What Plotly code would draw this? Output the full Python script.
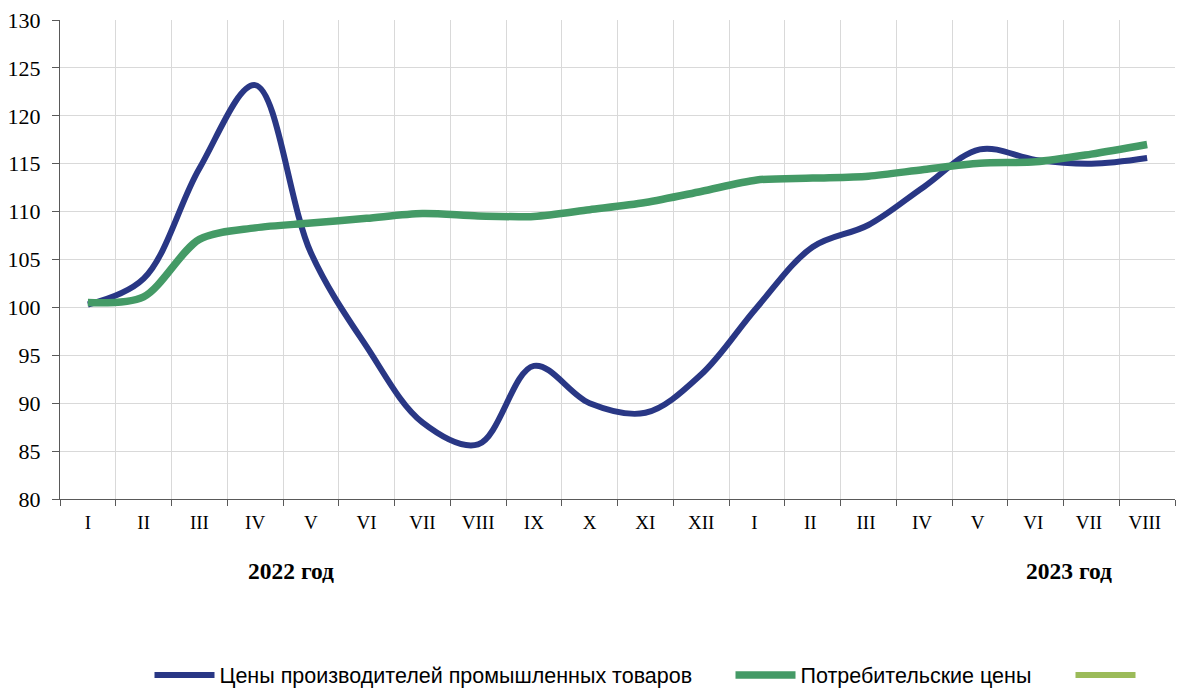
import plotly.graph_objects as go

months = ["I", "II", "III", "IV", "V", "VI", "VII", "VIII", "IX", "X", "XI", "XII",
          "I ", "II ", "III ", "IV ", "V ", "VI ", "VII ", "VIII "]
producer = [100.3, 103.0, 114.5, 123.2, 105.7, 95.9, 88.0, 85.7, 93.9, 90.0, 89.0, 93.0,
            100.0, 106.3, 108.6, 112.6, 116.5, 115.4, 115.0, 115.6]
consumer = [100.5, 101.1, 107.1, 108.3, 108.8, 109.3, 109.8, 109.55, 109.5, 110.2, 110.95, 112.1,
            113.3, 113.5, 113.7, 114.4, 115.05, 115.2, 116.0, 117.0]
name_producer = "Цены производителей промышленных товаров"
name_consumer = "Потребительские цены"
year_labels = ["2022 год", "2023 год"]

W, H = 1177, 691
ML, MR, MT, MB = 60, 2, 20, 192
plot_w = W - ML - MR
plot_h = H - MT - MB

fig = go.Figure()
fig.add_trace(go.Scatter(x=months, y=producer, mode="lines", name=name_producer,
                         line=dict(color="#293785", width=6, shape="spline", smoothing=1.0),
                         legend="legend"))
fig.add_trace(go.Scatter(x=months, y=consumer, mode="lines", name=name_consumer,
                         line=dict(color="#449A66", width=7.5, shape="spline", smoothing=0.85),
                         legend="legend2"))
fig.add_trace(go.Scatter(x=[months[0]], y=[None], mode="lines", name=" ",
                         line=dict(color="#9BBB59", width=6), legend="legend3"))

legend_font = dict(family="Liberation Sans, Arial, sans-serif", size=21.5, color="#000000")
leg_y = (H - 675) / H
common_leg = dict(orientation="h", xref="container", yref="container",
                  yanchor="middle", y=leg_y, xanchor="left", itemwidth=60,
                  font=legend_font, bgcolor="rgba(0,0,0,0)", borderwidth=0)

fig.update_layout(
    width=W, height=H,
    margin=dict(l=ML, r=MR, t=MT, b=MB, autoexpand=False),
    paper_bgcolor="white", plot_bgcolor="white",
    showlegend=True,
    legend=dict(common_leg, x=149.5 / W),
    legend2=dict(common_leg, x=730.5 / W),
    legend3=dict(common_leg, x=1070.5 / W),
    xaxis=dict(
        type="category", range=[-0.5, 19.5], automargin=False,
        tickson="boundaries", ticks="outside", ticklen=6, tickcolor="#595959",
        showgrid=True, gridcolor="#d9d9d9", gridwidth=1.3,
        showline=True, linecolor="#595959", linewidth=1.3,
        tickfont=dict(family="Liberation Serif, Times New Roman, serif", size=19, color="#000000"),
        ticklabelstandoff=6,
    ),
    yaxis=dict(
        range=[80, 130], dtick=5, tick0=80, automargin=False,
        ticks="outside", ticklen=7, tickcolor="#595959",
        showgrid=True, gridcolor="#d9d9d9", gridwidth=1.3,
        showline=True, linecolor="#595959", linewidth=1.3,
        zeroline=False,
        tickfont=dict(family="Liberation Serif, Times New Roman, serif", size=22, color="#000000"),
        ticklabelstandoff=7,
    ),
)

ann_font = dict(family="Liberation Serif, Times New Roman, serif", size=23.5, color="#000000")
ann_y = (H - MB - 571) / plot_h
fig.add_annotation(x=(291 - ML) / plot_w, y=ann_y, xref="paper", yref="paper",
                   xanchor="center", yanchor="middle",
                   text="<b>" + year_labels[0] + "</b>", showarrow=False, font=ann_font)
fig.add_annotation(x=(1069 - ML) / plot_w, y=ann_y, xref="paper", yref="paper",
                   xanchor="center", yanchor="middle",
                   text="<b>" + year_labels[1] + "</b>", showarrow=False, font=ann_font)

fig.write_html("out.html", config={"displayModeBar": False},
               post_script="document.body.style.margin='0';document.body.style.overflow='hidden';")
